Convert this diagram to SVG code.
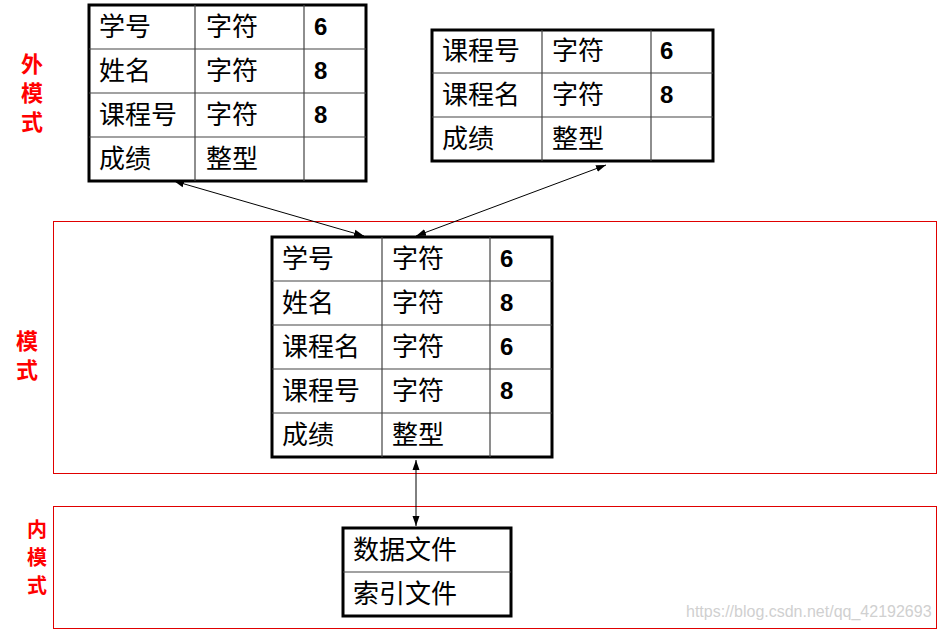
<svg xmlns="http://www.w3.org/2000/svg" width="939" height="630" viewBox="0 0 939 630">
<defs>
<style>
.t{font-family:"Noto Sans CJK SC","Liberation Sans",sans-serif;font-size:26px;fill:#000}
.n{font-family:"Liberation Sans",Arial,sans-serif;font-size:24px;font-weight:bold;fill:#000}
.lab{font-family:"Noto Sans CJK SC","Liberation Sans",sans-serif;font-size:22px;font-weight:bold;fill:#ff0000;text-anchor:middle}
.lab2{font-size:20px}
.outer{fill:#fff;stroke:#000;stroke-width:3}
.grid{stroke:#444;stroke-width:1.2;fill:none}
.zone{fill:none;stroke:#e00000;stroke-width:1}
.conn{stroke:#000;stroke-width:1;fill:none;marker-start:url(#ah);marker-end:url(#ah)}
.wm{font-family:"Liberation Sans",Arial,sans-serif;font-size:16px;fill:#d0d0d0}
</style>
<marker id="ah" viewBox="0 0 10 10" refX="10" refY="5" markerWidth="10" markerHeight="10" markerUnits="userSpaceOnUse" orient="auto-start-reverse">
<path d="M0,1.5 L10,5 L0,8.5 z" fill="#000"/>
</marker>
</defs>
<rect width="939" height="630" fill="#fff"/>

<g id="zones">
<rect class="zone" x="53.5" y="221.5" width="883" height="252"/>
<rect class="zone" x="53.5" y="506.5" width="883" height="122"/>
</g>

<g id="labels">
<text class="lab" x="32" y="72">外</text>
<text class="lab" x="32" y="101">模</text>
<text class="lab" x="32" y="130">式</text>
<text class="lab" x="27" y="349">模</text>
<text class="lab" x="27" y="378">式</text>
<text class="lab lab2" x="37" y="537">内</text>
<text class="lab lab2" x="37" y="565">模</text>
<text class="lab lab2" x="37" y="593">式</text>
</g>

<g id="ext1">
<rect class="outer" x="89" y="5" width="277" height="176"/>
<path class="grid" d="M195,5V181M304,5V181M89,49H366M89,93H366M89,137H366"/>
<text class="t" x="99" y="36">学号</text><text class="t" x="206" y="36">字符</text><text class="n" x="314" y="35">6</text>
<text class="t" x="99" y="80">姓名</text><text class="t" x="206" y="80">字符</text><text class="n" x="314" y="79">8</text>
<text class="t" x="99" y="124">课程号</text><text class="t" x="206" y="124">字符</text><text class="n" x="314" y="123">8</text>
<text class="t" x="99" y="168">成绩</text><text class="t" x="206" y="168">整型</text>
</g>

<g id="ext2">
<rect class="outer" x="432" y="30" width="281" height="131"/>
<path class="grid" d="M542,30V161M651,30V161M432,73H713M432,117H713"/>
<text class="t" x="442" y="60">课程号</text><text class="t" x="552" y="60">字符</text><text class="n" x="660" y="59">6</text>
<text class="t" x="442" y="104">课程名</text><text class="t" x="552" y="104">字符</text><text class="n" x="660" y="103">8</text>
<text class="t" x="442" y="148">成绩</text><text class="t" x="552" y="148">整型</text>
</g>

<g id="schema">
<rect class="outer" x="272" y="237" width="280" height="220"/>
<path class="grid" d="M382,237V457M490,237V457M272,281H552M272,325H552M272,369H552M272,413H552"/>
<text class="t" x="282" y="268">学号</text><text class="t" x="392" y="268">字符</text><text class="n" x="500" y="267">6</text>
<text class="t" x="282" y="312">姓名</text><text class="t" x="392" y="312">字符</text><text class="n" x="500" y="311">8</text>
<text class="t" x="282" y="356">课程名</text><text class="t" x="392" y="356">字符</text><text class="n" x="500" y="355">6</text>
<text class="t" x="282" y="400">课程号</text><text class="t" x="392" y="400">字符</text><text class="n" x="500" y="399">8</text>
<text class="t" x="282" y="444">成绩</text><text class="t" x="392" y="444">整型</text>
</g>

<g id="internal">
<rect class="outer" x="343" y="528" width="168" height="88"/>
<path class="grid" d="M343,572H511"/>
<text class="t" x="353" y="559">数据文件</text>
<text class="t" x="353" y="603">索引文件</text>
</g>

<g id="connectors">
<line class="conn" x1="174" y1="181" x2="364" y2="236"/>
<line class="conn" x1="606" y1="165" x2="416" y2="236"/>
<line class="conn" x1="416" y1="460" x2="416" y2="526"/>
</g>

<text class="wm" x="686" y="617">https://blog.csdn.net/qq_42192693</text>
</svg>
